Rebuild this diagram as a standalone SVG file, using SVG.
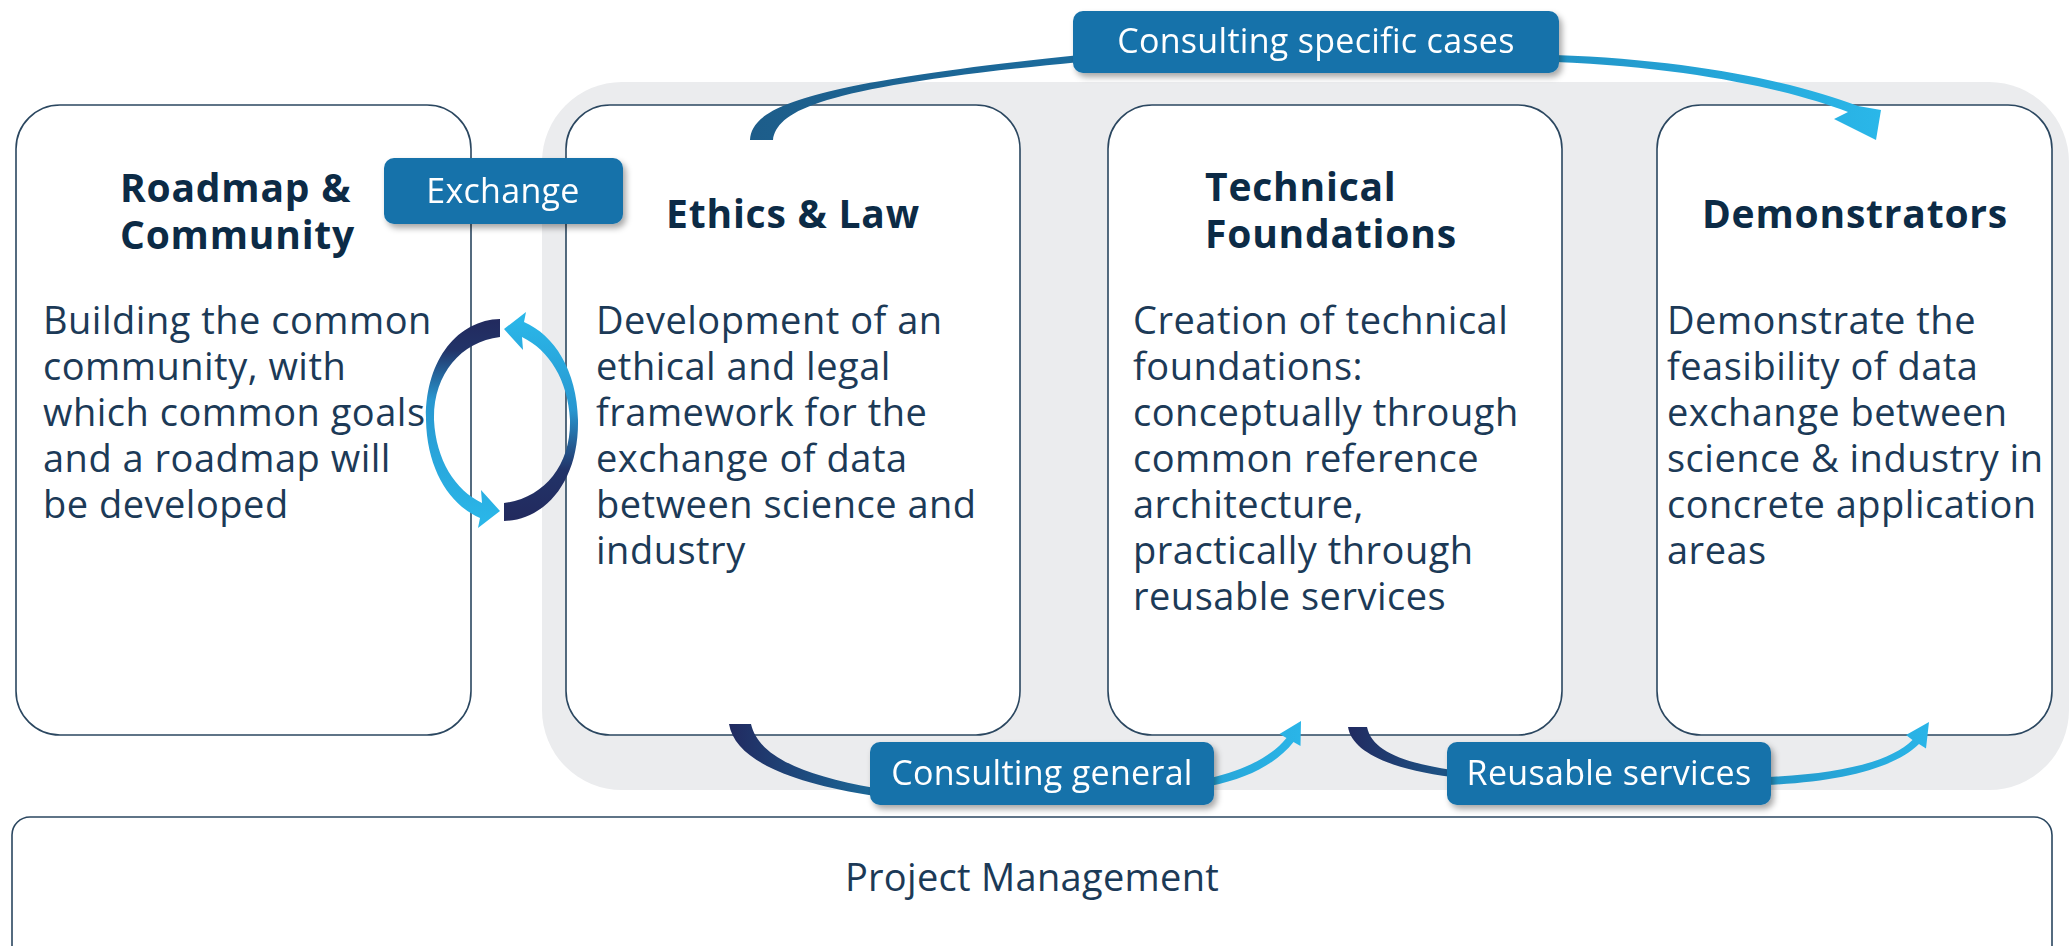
<svg xmlns="http://www.w3.org/2000/svg" width="2069" height="946" viewBox="0 0 2069 946">
<style>
.box{fill:#ffffff;stroke:#2b4760;stroke-width:1.6}
.title{font-family:"Open Sans","Noto Sans",sans-serif;font-weight:700;font-size:39px;letter-spacing:0.8px;fill:#0c2b46}
.body{font-family:"Open Sans","Noto Sans",sans-serif;font-size:38px;letter-spacing:0.5px;fill:#1c3a57}
.lbl{fill:#1872aa}
.lbltxt{font-family:"Open Sans","Noto Sans",sans-serif;font-size:34px;letter-spacing:0.3px;fill:#ffffff;text-anchor:middle}
</style>
<defs>
<filter id="sh" x="-10%" y="-20%" width="125%" height="150%">
<feDropShadow dx="3" dy="4" stdDeviation="3" flood-color="#000" flood-opacity="0.35"/>
</filter>
<linearGradient id="gSpec" gradientUnits="userSpaceOnUse" x1="750" y1="0" x2="1880" y2="0">
<stop offset="0" stop-color="#1d5d8a"/><stop offset="0.45" stop-color="#1a74a8"/><stop offset="1" stop-color="#2ab7e9"/>
</linearGradient>
<linearGradient id="gGen" gradientUnits="userSpaceOnUse" x1="729" y1="0" x2="1301" y2="0">
<stop offset="0" stop-color="#212a60"/><stop offset="0.25" stop-color="#1b6898"/><stop offset="1" stop-color="#2ab5e8"/>
</linearGradient>
<linearGradient id="gReu" gradientUnits="userSpaceOnUse" x1="1348" y1="0" x2="1929" y2="0">
<stop offset="0" stop-color="#212a60"/><stop offset="0.25" stop-color="#1b6898"/><stop offset="1" stop-color="#2ab5e8"/>
</linearGradient>
<linearGradient id="gLoopL" gradientUnits="userSpaceOnUse" x1="0" y1="320" x2="0" y2="520">
<stop offset="0" stop-color="#222a5e"/><stop offset="0.15" stop-color="#223368"/><stop offset="0.4" stop-color="#2897d0"/><stop offset="1" stop-color="#2ab6e8"/>
</linearGradient>
<linearGradient id="gLoopR" gradientUnits="userSpaceOnUse" x1="0" y1="520" x2="0" y2="320">
<stop offset="0" stop-color="#222a5e"/><stop offset="0.25" stop-color="#223368"/><stop offset="0.55" stop-color="#2897d0"/><stop offset="1" stop-color="#2ab6e8"/>
</linearGradient>
</defs>

<rect id="panel" x="542" y="82" width="1527" height="708" rx="80" fill="#ebecee"/>

<g id="roadmap">
<rect class="box" x="16" y="105" width="455" height="630" rx="44"/>
<text class="title" x="120" y="202">Roadmap &amp;</text>
<text class="title" x="120" y="249">Community</text>
<text class="body" x="43" y="334">Building the common</text>
<text class="body" x="43" y="380">community, with</text>
<text class="body" x="43" y="426">which common goals</text>
<text class="body" x="43" y="472">and a roadmap will</text>
<text class="body" x="43" y="518">be developed</text>
</g>

<g id="ethics">
<rect class="box" x="566" y="105" width="454" height="630" rx="44"/>
<text class="title" x="793" y="228" text-anchor="middle">Ethics &amp; Law</text>
<text class="body" x="596" y="334">Development of an</text>
<text class="body" x="596" y="380">ethical and legal</text>
<text class="body" x="596" y="426">framework for the</text>
<text class="body" x="596" y="472">exchange of data</text>
<text class="body" x="596" y="518">between science and</text>
<text class="body" x="596" y="564">industry</text>
</g>

<g id="technical">
<rect class="box" x="1108" y="105" width="454" height="630" rx="44"/>
<text class="title" x="1205" y="201">Technical</text>
<text class="title" x="1205" y="248">Foundations</text>
<text class="body" x="1133" y="334">Creation of technical</text>
<text class="body" x="1133" y="380">foundations:</text>
<text class="body" x="1133" y="426">conceptually through</text>
<text class="body" x="1133" y="472">common reference</text>
<text class="body" x="1133" y="518">architecture,</text>
<text class="body" x="1133" y="564">practically through</text>
<text class="body" x="1133" y="610">reusable services</text>
</g>

<g id="demonstrators">
<rect class="box" x="1657" y="105" width="395" height="630" rx="44"/>
<text class="title" x="1855" y="228" text-anchor="middle">Demonstrators</text>
<text class="body" x="1667" y="334">Demonstrate the</text>
<text class="body" x="1667" y="380">feasibility of data</text>
<text class="body" x="1667" y="426">exchange between</text>
<text class="body" x="1667" y="472">science &amp; industry in</text>
<text class="body" x="1667" y="518">concrete application</text>
<text class="body" x="1667" y="564">areas</text>
</g>

<g id="pm">
<rect class="box" x="12" y="817" width="2040" height="160" rx="18"/>
<text class="body" x="1032" y="891" text-anchor="middle" style="letter-spacing:0.3px">Project Management</text>
</g>

<g id="connectors">
<path fill="url(#gSpec)" d="M 750 140 C 752 108 800 84 1080 55 L 1080 62 C 820 87 778 110 773 140 Z"/>
<path fill="url(#gSpec)" d="M 1555 55 C 1700 60 1800 84 1858 106 L 1881 110 L 1876 140 L 1834 119 L 1848 112 C 1795 92 1700 68 1555 62 Z"/>
<path fill="url(#gGen)" d="M 729 724 C 735 760 790 783 875 796 L 875 788 C 800 775 758 755 751 724 Z"/>
<path fill="url(#gGen)" d="M 1210 786 C 1250 778 1278 762 1293.5 742 L 1300.5 746 L 1301 721 L 1279.5 734 L 1286.5 738 C 1272 756 1245 770 1210 778 Z"/>
<path fill="url(#gReu)" d="M 1348 727 C 1352 752 1390 769 1452 777 L 1452 770 C 1400 762 1372 750 1367 727 Z"/>
<path fill="url(#gReu)" d="M 1766 785 C 1840 782 1895 768 1919 744 L 1926 748.5 L 1929 722 L 1906 735 L 1912.5 740 C 1890 762 1840 774 1766 777 Z"/>
<path fill="url(#gLoopL)" d="M 500 319 C 458 320 425 360 426 420 C 427 470 450 505 480 518 L 478 528 L 500 511 L 481 490 L 482 503 C 455 490 436 460 434 420 C 433 375 460 342 500 337 Z"/>
<path fill="url(#gLoopR)" d="M 504 521 C 546 520 579 480 578 420 C 577 370 554 335 524 322 L 526 312 L 504 329 L 523 350 L 522 337 C 549 350 568 380 570 420 C 571 465 544 498 504 503 Z"/>
</g>

<g id="label-specific" filter="url(#sh)">
<rect class="lbl" x="1073" y="11" width="486" height="62" rx="10"/>
<text class="lbltxt" x="1316" y="53">Consulting specific cases</text>
</g>
<g id="label-exchange" filter="url(#sh)">
<rect class="lbl" x="384" y="158" width="239" height="66" rx="10"/>
<text class="lbltxt" x="503" y="203">Exchange</text>
</g>
<g id="label-general" filter="url(#sh)">
<rect class="lbl" x="870" y="742" width="344" height="63" rx="10"/>
<text class="lbltxt" x="1042" y="785">Consulting general</text>
</g>
<g id="label-reusable" filter="url(#sh)">
<rect class="lbl" x="1447" y="742" width="324" height="63" rx="10"/>
<text class="lbltxt" x="1609" y="785">Reusable services</text>
</g>
</svg>
